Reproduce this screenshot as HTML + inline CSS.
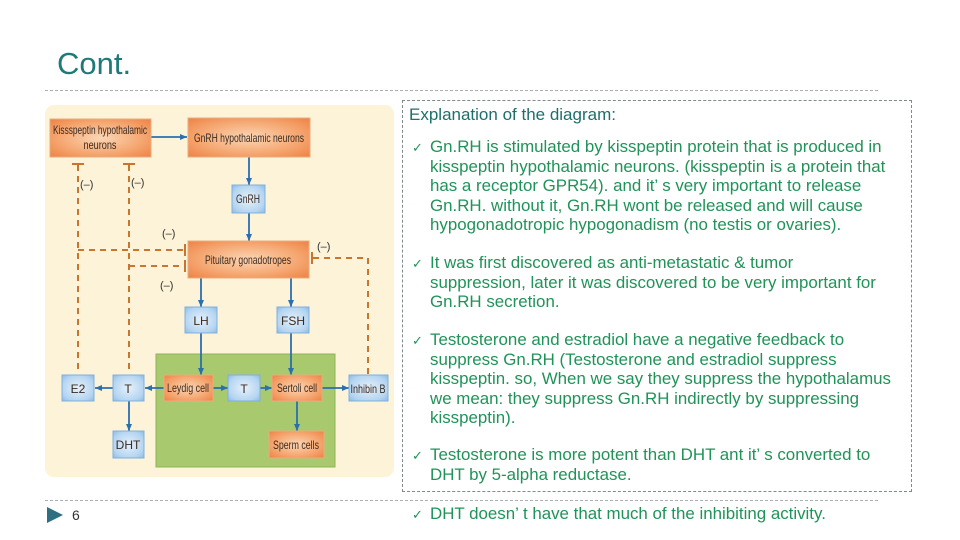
<!DOCTYPE html>
<html><head><meta charset="utf-8"><style>
body{margin:0;width:960px;height:540px;background:#fff;position:relative;overflow:hidden;font-family:"Liberation Sans",sans-serif}
.t{position:absolute;white-space:nowrap;font-size:16.9px;color:#1f9358;line-height:19.5px}
.ck{position:absolute;font-size:13px;color:#1f9358}
</style></head><body>
<div style="position:absolute;left:57px;top:46px;font-size:31px;color:#1e7a78">Cont.</div>
<div style="position:absolute;left:45px;top:90px;width:833px;border-top:1px dashed #aab0b4"></div>
<div style="position:absolute;left:45px;top:500px;width:833px;border-top:1px dashed #aab0b4"></div>
<div style="position:absolute;left:402px;top:100px;width:508px;height:390px;border:1px dashed #7f8a8a"></div>

<svg style="position:absolute;left:0;top:0" width="960" height="540">
<defs>
<radialGradient id="og" cx="50%" cy="50%" r="70%"><stop offset="0" stop-color="#fbd6b5"/><stop offset="0.6" stop-color="#f5a670"/><stop offset="1" stop-color="#ee8245"/></radialGradient>
<radialGradient id="bg" cx="50%" cy="50%" r="70%"><stop offset="0" stop-color="#e6f1fb"/><stop offset="0.7" stop-color="#b5d5f1"/><stop offset="1" stop-color="#8dbbe6"/></radialGradient>
<marker id="a" markerUnits="userSpaceOnUse" markerWidth="7" markerHeight="6" refX="7" refY="3" orient="auto"><path d="M0,0L7,3L0,6z" fill="#2a6fae"/></marker>
</defs>
<rect x="45" y="105" width="349" height="372" rx="9" fill="#fdf3d9"/>
<rect x="156" y="354" width="179" height="113" fill="#a9c96e" stroke="#8fb455"/>
<g stroke="#c8752e" stroke-width="2" stroke-dasharray="6,5" fill="none">
<path d="M78,165V374M129,165V374M78,250H184M129,266H184M313,258H368V374"/>
</g>
<g stroke="#c8752e" stroke-width="2">
<path d="M72,164H84M123,164H135M185,244V256M185,260V272M312,252V264"/>
</g>
<g font-size="11" fill="#333">
<text x="80" y="188">(–)</text><text x="131" y="186">(–)</text>
<text x="162" y="237">(–)</text><text x="160" y="289">(–)</text><text x="317" y="250">(–)</text>
</g>
<g stroke="#2a6fae" stroke-width="1.8" marker-end="url(#a)" fill="none">
<path d="M151,137H187"/><path d="M249,157V185"/><path d="M249,213V241"/>
<path d="M201,278V307"/><path d="M291,278V307"/><path d="M201,333V375"/><path d="M291,333V375"/>
<path d="M164,388H145"/><path d="M113,388H95"/><path d="M213,388H228"/><path d="M260,388H272"/>
<path d="M322,388H349"/><path d="M129,401V431"/><path d="M297,401V431"/>
</g>
<g stroke="#e9ac7f" fill="url(#og)">
<rect x="50" y="119" width="101" height="38"/><rect x="188" y="118" width="122" height="39"/>
<rect x="188" y="241" width="121" height="37"/><rect x="164" y="375" width="49" height="26"/>
<rect x="272" y="375" width="50" height="26"/><rect x="269" y="431" width="55" height="27"/>
</g>
<g stroke="#7fb0de" fill="url(#bg)">
<rect x="232" y="185" width="33" height="28"/><rect x="185" y="307" width="32" height="26"/>
<rect x="277" y="307" width="32" height="26"/><rect x="62" y="375" width="32" height="26"/>
<rect x="113" y="375" width="31" height="26"/><rect x="228" y="375" width="32" height="26"/>
<rect x="349" y="375" width="39" height="26"/><rect x="113" y="431" width="31" height="27"/>
</g>
<g font-size="12" fill="#3a2a20" text-anchor="middle">
<text x="100" y="134" textLength="94" lengthAdjust="spacingAndGlyphs">Kissspeptin hypothalamic</text><text x="100" y="149" textLength="33" lengthAdjust="spacingAndGlyphs">neurons</text>
<text x="249" y="142" textLength="110" lengthAdjust="spacingAndGlyphs">GnRH hypothalamic neurons</text>
<text x="248" y="264" textLength="86" lengthAdjust="spacingAndGlyphs">Pituitary gonadotropes</text>
<text x="188" y="392" textLength="42" lengthAdjust="spacingAndGlyphs">Leydig cell</text><text x="297" y="392" textLength="40" lengthAdjust="spacingAndGlyphs">Sertoli cell</text>
<text x="296" y="449" textLength="46" lengthAdjust="spacingAndGlyphs">Sperm cells</text>
<text x="248" y="203" textLength="24" lengthAdjust="spacingAndGlyphs">GnRH</text><text x="201" y="325">LH</text><text x="293" y="325">FSH</text>
<text x="78" y="393">E2</text><text x="128" y="393">T</text><text x="244" y="393">T</text>
<text x="368" y="393" textLength="35" lengthAdjust="spacingAndGlyphs">Inhibin B</text><text x="128" y="449">DHT</text>
</g>
<path d="M47,507L63,515L47,523z" fill="#2e6f80"/>
<text x="72" y="520" font-size="14" fill="#333">6</text>
</svg>

<div class="t" style="left:409px;top:105px;font-size:17px;color:#1e6f6c">Explanation of the diagram:</div>
<div class="ck" style="left:412px;top:140px">✓</div>
<div class="t" style="left:430px;top:137px">Gn.RH is stimulated by kisspeptin protein that is produced in<br>kisspeptin hypothalamic neurons. (kisspeptin is a protein that<br>has a receptor GPR54). and it’ s very important to release<br>Gn.RH. without it, Gn.RH wont be released and will cause<br>hypogonadotropic hypogonadism (no testis or ovaries).</div>
<div class="ck" style="left:412px;top:256px">✓</div>
<div class="t" style="left:430px;top:253px">It was first discovered as anti-metastatic &amp; tumor<br>suppression, later it was discovered to be very important for<br>Gn.RH secretion.</div>
<div class="ck" style="left:412px;top:333px">✓</div>
<div class="t" style="left:430px;top:330px">Testosterone and estradiol have a negative feedback to<br>suppress Gn.RH (Testosterone and estradiol suppress<br>kisspeptin. so, When we say they suppress the hypothalamus<br>we mean: they suppress Gn.RH indirectly by suppressing<br>kisspeptin).</div>
<div class="ck" style="left:412px;top:448px">✓</div>
<div class="t" style="left:430px;top:445px">Testosterone is more potent than DHT ant it’ s converted to<br>DHT by 5-alpha reductase.</div>
<div class="ck" style="left:412px;top:507px">✓</div>
<div class="t" style="left:430px;top:504px">DHT doesn’ t have that much of the inhibiting activity.</div>
</body></html>
